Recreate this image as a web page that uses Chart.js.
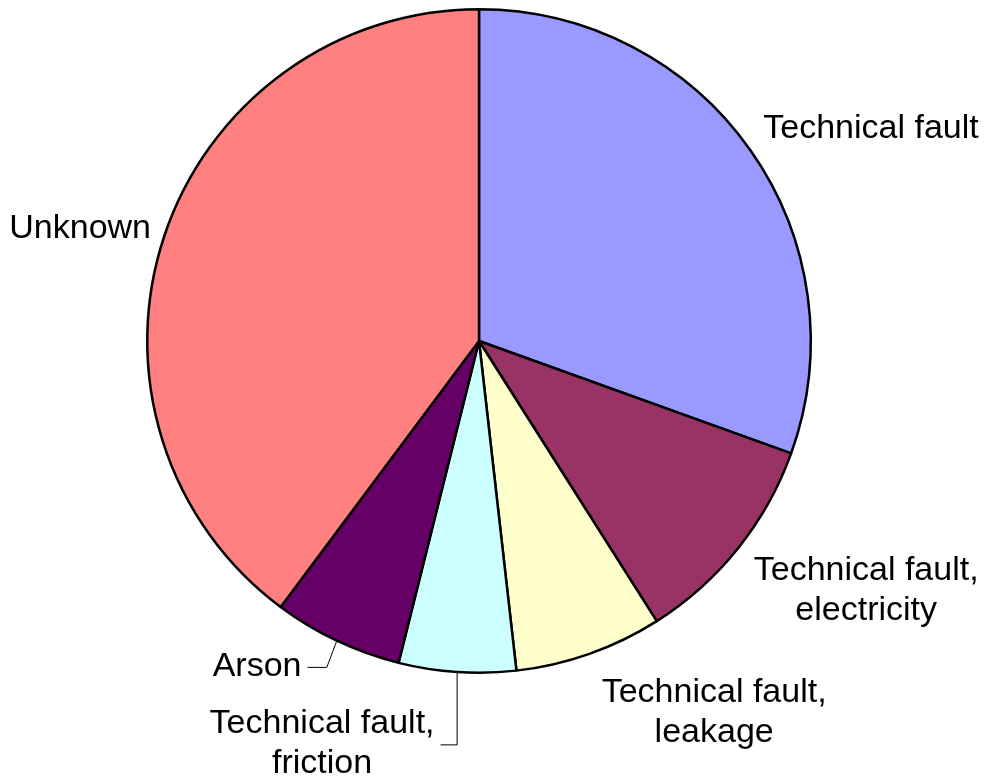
<!DOCTYPE html>
<html>
<head>
<meta charset="utf-8">
<script src="https://cdn.jsdelivr.net/npm/chart.js@4.4.0/dist/chart.umd.min.js"></script>
<style>
  html, body { margin: 0; padding: 0; background: #fff; }
  #wrap { width: 984px; height: 779px; }
</style>
</head>
<body>
<div id="wrap"><canvas id="myChart"></canvas></div>
<script>
// Causes (share in %)
var categories = [
  "Technical fault",
  "Technical fault, electricity",
  "Technical fault, leakage",
  "Technical fault, friction",
  "Arson",
  "Unknown"
];
var shares = [30.5, 10.5, 7.2, 5.7, 6.3, 39.8];
var sliceColors = ["#9999FF", "#993366", "#FFFFCC", "#CCFFFF", "#660066", "#FF8080"];

// labels outside the pie, with a leader line where needed
var pieLabels = {
  id: "pieLabels",
  afterDraw: function (chart, args, opts) {
    var ctx = chart.ctx;
    var meta = chart.getDatasetMeta(0);
    ctx.save();
    ctx.font = opts.size + "px " + opts.family;
    ctx.fillStyle = "#000";
    ctx.textAlign = "center";
    ctx.textBaseline = "middle";
    meta.data.forEach(function (arc, i) {
      var mid = (arc.startAngle + arc.endAngle) / 2;
      var ux = Math.cos(mid), uy = Math.sin(mid);
      var lines = chart.data.labels[i].split(/, /);
      if (lines.length > 1) lines[0] += ",";
      var w = Math.max.apply(null, lines.map(function (l) { return ctx.measureText(l).width; }));
      var h = lines.length * opts.lineHeight;
      var R = arc.outerRadius + opts.gap;
      var nudge = opts.nudge[i] || [0, 0];
      var cx = arc.x + R * ux + ux * w / 2 + nudge[0];
      var cy = arc.y + R * uy + uy * h / 2 + nudge[1];
      lines.forEach(function (l, k) {
        ctx.fillText(l, cx, cy - h / 2 + opts.lineHeight * (k + 0.5));
      });

      var lead = opts.leaders[i];
      if (lead) {
        var px = arc.x + arc.outerRadius * ux;
        var py = arc.y + arc.outerRadius * uy;
        var ly = cy + lead.dy;
        ctx.beginPath();
        ctx.strokeStyle = "#000";
        ctx.lineWidth = 1;
        ctx.moveTo(px, py);
        ctx.lineTo(px + lead.elbow, ly);
        ctx.lineTo(cx + w / 2 + 6, ly);
        ctx.stroke();
      }
    });
    ctx.restore();
  }
};

var ctx = document.getElementById("myChart").getContext("2d");

var myChart = new Chart(ctx, {
  type: "pie",
  data: {
    labels: categories,
    datasets: [
      {
        data: shares,
        backgroundColor: sliceColors,
        borderColor: "#000",
        borderWidth: 2.5
      }
    ]
  },
  options: {
    responsive: true,
    maintainAspectRatio: false,
    animation: false,
    layout: { padding: { top: 8, bottom: 105, left: 146, right: 172 } },
    plugins: {
      legend: { display: false },
      tooltip: { enabled: false },
      pieLabels: {
        family: "'Liberation Sans', Arial, sans-serif",
        size: 34,
        lineHeight: 40,
        gap: 25,
        nudge: [[12, 4], [21, 2], [79, -3], [-126, 7], [-50, -15], [7, 6]],
        leaders: [null, null, null, { elbow: 0, dy: 1 }, { elbow: -10, dy: 1 }, null]
      }
    }
  },
  plugins: [pieLabels]
});
</script>
</body>
</html>
